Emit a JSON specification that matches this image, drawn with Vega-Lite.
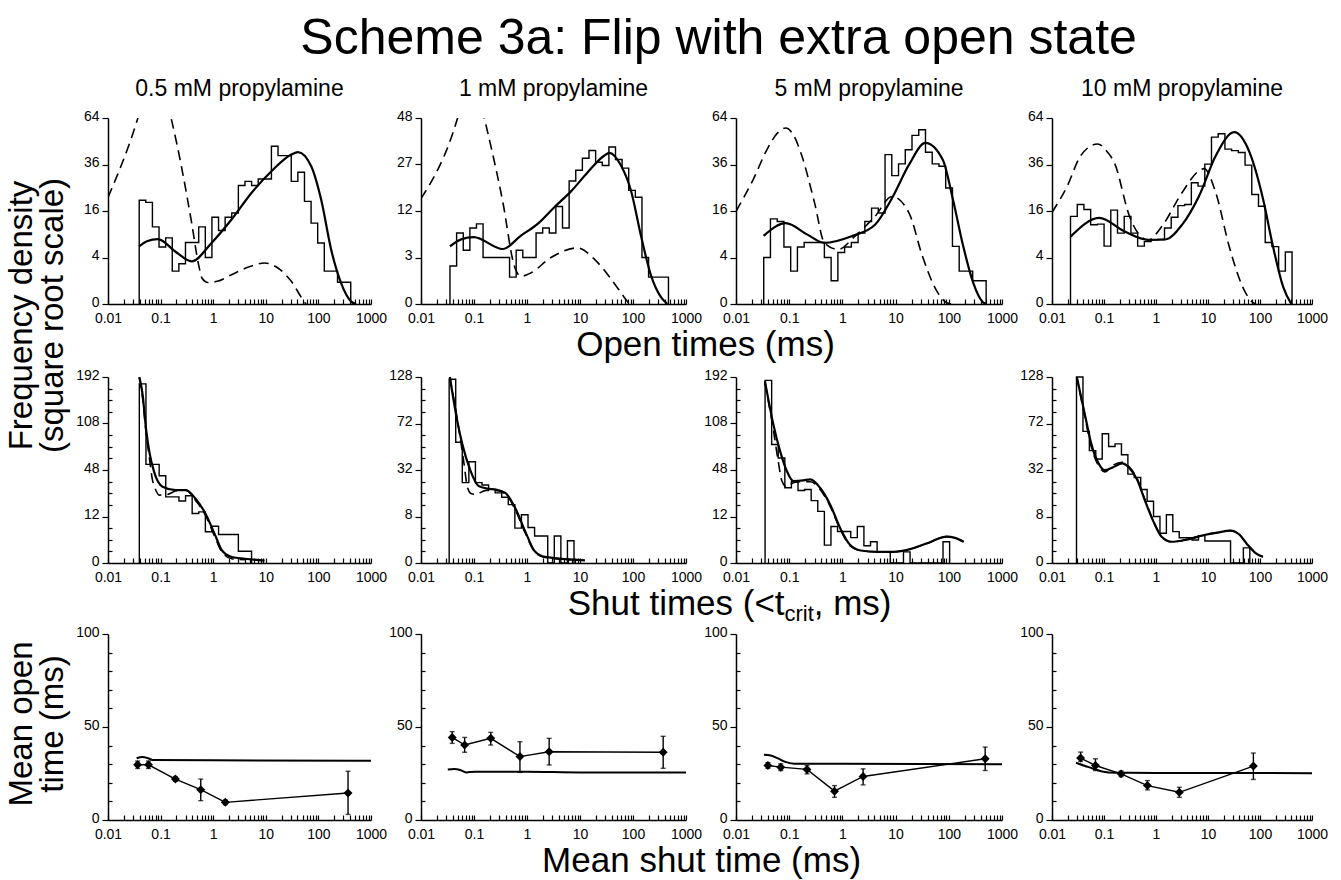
{
"$schema": "https://vega.github.io/schema/vega-lite/v6.json",
"background": "white",
"padding": {"left": 5, "top": 14, "right": 5, "bottom": 5},
"config": {
  "font": "Liberation Sans",
  "view": {"stroke": null},
  "axis": {"labelFont": "Liberation Sans", "labelFontSize": 14, "labelColor": "black", "domainColor": "black", "domainWidth": 1.5, "tickColor": "black", "tickWidth": 1.2, "tickSize": 6, "grid": false, "labelPadding": 3},
  "axisY": {"labelOffset": -2},
  "title": {"font": "Liberation Sans", "fontWeight": "normal", "color": "black"}
},
"title": {"text": "Scheme 3a: Flip with extra open state", "fontSize": 50, "anchor": "middle", "offset": 14, "dx": 52},
"datasets": {
"h_o05": [{"t":0.0392,"f":0},{"t":0.0392,"f":19.9},{"t":0.0523,"f":19.1},{"t":0.0699,"f":11},{"t":0.0934,"f":6},{"t":0.1247,"f":8.1},{"t":0.1666,"f":2},{"t":0.2225,"f":3},{"t":0.2971,"f":7},{"t":0.3968,"f":7},{"t":0.53,"f":11},{"t":0.708,"f":4},{"t":0.946,"f":13.9},{"t":1.263,"f":10},{"t":1.687,"f":13.9},{"t":2.253,"f":15.3},{"t":3.009,"f":26},{"t":4.019,"f":27.8},{"t":5.368,"f":26},{"t":7.17,"f":28.9},{"t":9.576,"f":28.9},{"t":12.79,"f":46},{"t":17.08,"f":40.7},{"t":22.81,"f":40.7},{"t":30.47,"f":27.8},{"t":40.69,"f":32.1},{"t":54.35,"f":19.5},{"t":72.59,"f":12.1},{"t":96.95,"f":6.9},{"t":129.5,"f":2},{"t":172.9,"f":2},{"t":231,"f":0.87},{"t":308.5,"f":0.87},{"t":412,"f":0}],
"f_o05": [{"t":0.039,"f":6.15},{"t":0.055,"f":7.3},{"t":0.089,"f":7.8},{"t":0.19,"f":5.1},{"t":0.39,"f":3.37},{"t":0.93,"f":6.9},{"t":2.23,"f":13.2},{"t":5.33,"f":22.8},{"t":12.8,"f":32.6},{"t":30.5,"f":41.3},{"t":40.8,"f":42.7},{"t":73,"f":35.1},{"t":113,"f":20.1},{"t":175,"f":5.46},{"t":269,"f":0.82},{"t":416,"f":0.013},{"t":520,"f":0}],
"d_o05": [{"t":0.01,"f":21},{"t":0.037,"f":64},{"t":0.075,"f":110},{"t":0.158,"f":64},{"t":0.39,"f":12.1},{"t":0.52,"f":3.1},{"t":0.62,"f":1.2},{"t":0.8,"f":0.85},{"t":1.2,"f":0.95},{"t":2.23,"f":1.59},{"t":5,"f":2.6},{"t":9.5,"f":3.1},{"t":17,"f":2.4},{"t":30.5,"f":0.95},{"t":51,"f":0.03},{"t":58,"f":0}],
"h_o1": [{"t":0.0352,"f":0},{"t":0.0352,"f":2},{"t":0.047,"f":7},{"t":0.0627,"f":4},{"t":0.0836,"f":8},{"t":0.1114,"f":8.9},{"t":0.1483,"f":3},{"t":0.1977,"f":3},{"t":0.2636,"f":3},{"t":0.3516,"f":3},{"t":0.4688,"f":1},{"t":0.6252,"f":4},{"t":0.8337,"f":3},{"t":1.112,"f":3},{"t":1.483,"f":7},{"t":1.977,"f":8},{"t":2.636,"f":7},{"t":3.508,"f":13.2},{"t":4.677,"f":8},{"t":6.237,"f":21},{"t":8.318,"f":24.8},{"t":11.09,"f":29.5},{"t":14.79,"f":32.7},{"t":19.72,"f":27.9},{"t":26.3,"f":26.6},{"t":35.08,"f":34.2},{"t":46.77,"f":29},{"t":62.23,"f":25.6},{"t":82.99,"f":17.9},{"t":110.7,"f":15.8},{"t":147.6,"f":3},{"t":196.8,"f":1},{"t":262.4,"f":1},{"t":349.9,"f":1},{"t":466.7,"f":0}],
"f_o1": [{"t":0.0352,"f":4.6},{"t":0.057,"f":5.8},{"t":0.099,"f":6.2},{"t":0.35,"f":4.2},{"t":0.77,"f":6.5},{"t":1.59,"f":8.9},{"t":3.28,"f":13},{"t":6.76,"f":17.6},{"t":14,"f":24.1},{"t":28.9,"f":30.6},{"t":35.7,"f":31.7},{"t":59.4,"f":26.6},{"t":92,"f":17.7},{"t":141,"f":6.5},{"t":219,"f":1.12},{"t":340,"f":0.06},{"t":446,"f":0}],
"d_o1": [{"t":0.01,"f":15.4},{"t":0.049,"f":48},{"t":0.09,"f":80},{"t":0.157,"f":48},{"t":0.35,"f":14.4},{"t":0.577,"f":2},{"t":0.77,"f":1.07},{"t":1.18,"f":1.34},{"t":2.84,"f":3},{"t":9.1,"f":4.37},{"t":18.6,"f":2.8},{"t":38.5,"f":0.87},{"t":68.6,"f":0.06},{"t":85,"f":0}],
"h_o5": [{"t":0.0332,"f":0},{"t":0.0332,"f":4},{"t":0.0444,"f":13.4},{"t":0.0595,"f":12.6},{"t":0.0796,"f":6},{"t":0.1066,"f":2},{"t":0.1427,"f":6},{"t":0.1911,"f":7},{"t":0.2558,"f":7},{"t":0.3424,"f":7},{"t":0.4585,"f":4},{"t":0.6138,"f":1},{"t":0.8216,"f":4.9},{"t":1.1,"f":6},{"t":1.473,"f":7},{"t":1.972,"f":9.3},{"t":2.64,"f":12.6},{"t":3.534,"f":17},{"t":4.731,"f":15.3},{"t":6.334,"f":41.3},{"t":8.479,"f":30.5},{"t":11.35,"f":36.3},{"t":15.2,"f":44},{"t":20.34,"f":52.6},{"t":27.23,"f":56.2},{"t":36.46,"f":42.6},{"t":48.81,"f":36.3},{"t":65.34,"f":35.1},{"t":87.47,"f":24.9},{"t":117.1,"f":6.15},{"t":156.8,"f":2},{"t":209.9,"f":2},{"t":281,"f":1},{"t":376.2,"f":1},{"t":503.6,"f":0}],
"f_o5": [{"t":0.033,"f":8.6},{"t":0.086,"f":12.1},{"t":0.22,"f":8.9},{"t":0.46,"f":6.9},{"t":1.49,"f":8.5},{"t":4.1,"f":11.6},{"t":8.6,"f":20.8},{"t":17.9,"f":35.9},{"t":36.1,"f":48},{"t":77,"f":38.5},{"t":120,"f":20.1},{"t":187,"f":6.15},{"t":288,"f":0.82},{"t":440,"f":0.005},{"t":515,"f":0}],
"d_o5": [{"t":0.01,"f":15.9},{"t":0.021,"f":28.6},{"t":0.038,"f":44},{"t":0.06,"f":54},{"t":0.086,"f":57.3},{"t":0.124,"f":52},{"t":0.166,"f":42.2},{"t":0.3,"f":18.9},{"t":0.46,"f":6.9},{"t":0.83,"f":5.5},{"t":1.72,"f":8.5},{"t":4.1,"f":14.2},{"t":8.6,"f":21.4},{"t":17.9,"f":15.3},{"t":32,"f":4.2},{"t":57.5,"f":0.38},{"t":89,"f":0.005},{"t":112,"f":0}],
"h_o10": [{"t":0.0227,"f":0},{"t":0.0227,"f":14.2},{"t":0.0306,"f":18.3},{"t":0.0411,"f":16.5},{"t":0.0554,"f":11.6},{"t":0.0746,"f":11.8},{"t":0.1003,"f":6.2},{"t":0.1351,"f":16.3},{"t":0.1818,"f":9.3},{"t":0.2448,"f":14.2},{"t":0.3295,"f":9.3},{"t":0.4436,"f":6.2},{"t":0.5973,"f":7.2},{"t":0.8039,"f":7.6},{"t":1.082,"f":7.7},{"t":1.457,"f":10.7},{"t":1.961,"f":13.9},{"t":2.64,"f":17.9},{"t":3.554,"f":18.3},{"t":4.785,"f":27.2},{"t":6.441,"f":25.7},{"t":8.67,"f":36.2},{"t":11.67,"f":51.5},{"t":15.71,"f":53.6},{"t":21.15,"f":44.4},{"t":28.47,"f":43.5},{"t":38.33,"f":42.5},{"t":51.6,"f":35.7},{"t":69.46,"f":22.2},{"t":93.5,"f":17.7},{"t":125.9,"f":7},{"t":169.4,"f":6.1},{"t":228.1,"f":2},{"t":307.1,"f":5},{"t":413.4,"f":0}],
"f_o10": [{"t":0.0227,"f":8.4},{"t":0.081,"f":13.7},{"t":0.25,"f":9.7},{"t":0.71,"f":7.6},{"t":1.5,"f":7.7},{"t":3.16,"f":11.6},{"t":6.7,"f":21.5},{"t":14.1,"f":40.7},{"t":32,"f":54.6},{"t":63,"f":42.5},{"t":115,"f":20.2},{"t":178,"f":6.1},{"t":280,"f":0.53},{"t":400,"f":0}],
"d_o10": [{"t":0.01,"f":15.5},{"t":0.0196,"f":25.7},{"t":0.0356,"f":40.7},{"t":0.075,"f":47.4},{"t":0.118,"f":42.5},{"t":0.158,"f":37},{"t":0.31,"f":14.2},{"t":0.45,"f":9.3},{"t":0.71,"f":7.6},{"t":1.29,"f":11.1},{"t":3.16,"f":22.9},{"t":6.7,"f":32.8},{"t":8.4,"f":33.9},{"t":14.1,"f":22.9},{"t":25.6,"f":6.1},{"t":46.6,"f":0.53},{"t":72.5,"f":0.005},{"t":84,"f":0}],
"h_s05": [{"t":0.0394,"f":0},{"t":0.0394,"f":178},{"t":0.0527,"f":54},{"t":0.0703,"f":54},{"t":0.0939,"f":42.3},{"t":0.1253,"f":24.3},{"t":0.1673,"f":24.3},{"t":0.2234,"f":21.3},{"t":0.2982,"f":25.1},{"t":0.3981,"f":13.6},{"t":0.5315,"f":14.5},{"t":0.7096,"f":5.4},{"t":0.9473,"f":7.5},{"t":1.265,"f":4.5},{"t":1.689,"f":4.5},{"t":2.254,"f":4.5},{"t":3.009,"f":0.76},{"t":4.018,"f":0.76},{"t":5.364,"f":0}],
"f_s05": [{"t":0.0394,"f":192},{"t":0.0456,"f":157},{"t":0.0527,"f":100.8},{"t":0.061,"f":68.9},{"t":0.075,"f":46.3},{"t":0.109,"f":32.3},{"t":0.193,"f":29.5},{"t":0.3,"f":29.5},{"t":0.459,"f":23.1},{"t":0.71,"f":13.6},{"t":1.09,"f":4.3},{"t":1.46,"f":0.9},{"t":2.25,"f":0.2},{"t":4,"f":0.1},{"t":9.5,"f":0.03}],
"d_s05": [{"t":0.0394,"f":190},{"t":0.0456,"f":150},{"t":0.0527,"f":95},{"t":0.061,"f":62},{"t":0.069,"f":40},{"t":0.08,"f":30},{"t":0.094,"f":25.6},{"t":0.135,"f":26.1},{"t":0.193,"f":28.7},{"t":0.3,"f":29.5},{"t":0.459,"f":21.9},{"t":0.71,"f":12.7},{"t":1.09,"f":3.6},{"t":1.46,"f":0.68},{"t":2.25,"f":0.1},{"t":4,"f":0.06}],
"h_s1": [{"t":0.034,"f":0},{"t":0.034,"f":125},{"t":0.0452,"f":54},{"t":0.0601,"f":23.9},{"t":0.08,"f":37.9},{"t":0.1064,"f":23.9},{"t":0.1416,"f":22.5},{"t":0.1884,"f":20},{"t":0.2506,"f":18.2},{"t":0.3334,"f":16},{"t":0.4436,"f":12.6},{"t":0.5902,"f":4.5},{"t":0.7852,"f":8.6},{"t":1.045,"f":4.65},{"t":1.39,"f":2.7},{"t":1.849,"f":2.7},{"t":2.46,"f":0},{"t":3.273,"f":2.7},{"t":4.355,"f":0},{"t":5.794,"f":1.84},{"t":7.709,"f":0}],
"f_s1": [{"t":0.035,"f":128},{"t":0.0487,"f":73.7},{"t":0.06,"f":52.5},{"t":0.085,"f":31.9},{"t":0.122,"f":21.9},{"t":0.18,"f":20.5},{"t":0.255,"f":20},{"t":0.39,"f":18.2},{"t":0.6,"f":11.2},{"t":0.93,"f":3.65},{"t":1.4,"f":0.52},{"t":2.2,"f":0.14},{"t":12.4,"f":0.027}],
"d_s1": [{"t":0.035,"f":128},{"t":0.0487,"f":75.4},{"t":0.065,"f":36.2},{"t":0.075,"f":21.4},{"t":0.09,"f":17.7},{"t":0.106,"f":17.4},{"t":0.17,"f":19.5},{"t":0.255,"f":19.5},{"t":0.39,"f":17.7},{"t":0.6,"f":10.5},{"t":0.93,"f":3.27},{"t":1.4,"f":0.46},{"t":2.2,"f":0.11},{"t":7,"f":0.04}],
"h_s5": [{"t":0.0352,"f":0},{"t":0.0352,"f":185},{"t":0.0468,"f":77.9},{"t":0.0622,"f":61.2},{"t":0.0828,"f":31.4},{"t":0.11,"f":36.7},{"t":0.1464,"f":29.2},{"t":0.1947,"f":30},{"t":0.259,"f":21.6},{"t":0.3445,"f":14.8},{"t":0.4583,"f":1.78},{"t":0.6095,"f":7.4},{"t":0.8108,"f":5.5},{"t":1.078,"f":5.5},{"t":1.435,"f":3.56},{"t":1.908,"f":7.4},{"t":2.538,"f":1.64},{"t":3.376,"f":2.5},{"t":4.491,"f":0.69},{"t":5.973,"f":0.69},{"t":7.945,"f":0},{"t":10.57,"f":0},{"t":14.06,"f":0.69},{"t":18.7,"f":0},{"t":24.87,"f":0},{"t":33.08,"f":0},{"t":44,"f":0},{"t":58.53,"f":0},{"t":77.85,"f":2.5},{"t":103.6,"f":0}],
"f_s5": [{"t":0.0351,"f":183},{"t":0.05,"f":107.8},{"t":0.067,"f":70.1},{"t":0.09,"f":47.1},{"t":0.12,"f":37.3},{"t":0.185,"f":37.9},{"t":0.25,"f":38.9},{"t":0.38,"f":31.4},{"t":0.59,"f":18.9},{"t":0.91,"f":6.7},{"t":1.4,"f":1.78},{"t":2.2,"f":0.87},{"t":4.5,"f":0.69},{"t":9.1,"f":0.69},{"t":18.8,"f":1.06},{"t":38.5,"f":2.13},{"t":92,"f":3.85},{"t":130,"f":3.5},{"t":190,"f":2.5}],
"d_s5": [{"t":0.0351,"f":179},{"t":0.05,"f":100},{"t":0.062,"f":58},{"t":0.073,"f":37.3},{"t":0.09,"f":32},{"t":0.12,"f":35.8},{"t":0.185,"f":36.7},{"t":0.25,"f":36.7},{"t":0.38,"f":30},{"t":0.59,"f":17.8},{"t":0.91,"f":6.3},{"t":1.4,"f":1.64},{"t":2.2,"f":0.87},{"t":4.5,"f":0.69},{"t":9.1,"f":0.69},{"t":18.8,"f":1.06},{"t":38.5,"f":2.13},{"t":92,"f":3.85},{"t":130,"f":3.5},{"t":190,"f":2.5}],
"h_s10": [{"t":0.0296,"f":0},{"t":0.0296,"f":128},{"t":0.0394,"f":64.1},{"t":0.0523,"f":46.7},{"t":0.0695,"f":40},{"t":0.0924,"f":61.8},{"t":0.1227,"f":50.2},{"t":0.1631,"f":52.5},{"t":0.2167,"f":43.4},{"t":0.2879,"f":29.2},{"t":0.3825,"f":27},{"t":0.5082,"f":20},{"t":0.6752,"f":14.1},{"t":0.8971,"f":8},{"t":1.192,"f":3.27},{"t":1.584,"f":8.6},{"t":2.104,"f":3.65},{"t":2.795,"f":2.37},{"t":3.714,"f":2.37},{"t":4.934,"f":1.95},{"t":6.556,"f":2.77},{"t":8.71,"f":1.78},{"t":11.57,"f":1.78},{"t":15.38,"f":1.78},{"t":20.43,"f":1.78},{"t":27.14,"f":0},{"t":36.06,"f":0},{"t":47.91,"f":0.85},{"t":63.65,"f":0}],
"f_s10": [{"t":0.03,"f":128},{"t":0.0425,"f":82.7},{"t":0.057,"f":52.5},{"t":0.077,"f":37.4},{"t":0.104,"f":31.9},{"t":0.146,"f":33.8},{"t":0.224,"f":36.7},{"t":0.3,"f":33.8},{"t":0.43,"f":25.9},{"t":0.62,"f":14.1},{"t":0.89,"f":6.4},{"t":1.28,"f":2.56},{"t":1.98,"f":1.67},{"t":4.1,"f":2.07},{"t":8.5,"f":2.9},{"t":15,"f":3.4},{"t":27,"f":3.9},{"t":40,"f":3},{"t":55,"f":1.42},{"t":85,"f":0.33},{"t":114,"f":0.14}],
"d_s10": [{"t":0.03,"f":128},{"t":0.0425,"f":80},{"t":0.057,"f":50},{"t":0.077,"f":35.5},{"t":0.104,"f":30.7},{"t":0.146,"f":35.2},{"t":0.224,"f":37.5},{"t":0.3,"f":34.5},{"t":0.43,"f":26.5},{"t":0.62,"f":14.5},{"t":0.89,"f":6.6},{"t":1.28,"f":2.6},{"t":1.98,"f":1.67},{"t":4.1,"f":2.07},{"t":8.5,"f":2.9},{"t":15,"f":3.4},{"t":27,"f":3.9},{"t":40,"f":3},{"t":55,"f":1.42},{"t":85,"f":0.33},{"t":114,"f":0.14}],
"p_m05": [{"t":0.0366,"m":29.7,"lo":27.7,"hi":31.7},{"t":0.0589,"m":29.7,"lo":27.7,"hi":31.7},{"t":0.191,"m":22,"lo":20.8,"hi":23.2},{"t":0.58,"m":16.3,"lo":10.4,"hi":22},{"t":1.7,"m":9.5,"lo":8.3,"hi":10.7},{"t":366,"m":14.5,"lo":3,"hi":26.2}],
"c_m05": [{"t":0.035,"f":33.2},{"t":0.045,"f":33.9},{"t":0.058,"f":33.2},{"t":0.07,"f":32.3},{"t":1,"f":32.1},{"t":1000,"f":31.9}],
"p_m1": [{"t":0.0388,"m":44.4,"lo":41.2,"hi":47.5},{"t":0.0666,"m":40.3,"lo":36.4,"hi":44.4},{"t":0.207,"m":43.9,"lo":40.3,"hi":47.1},{"t":0.736,"m":34.1,"lo":25.6,"hi":42.1},{"t":2.62,"m":36.7,"lo":29.6,"hi":43.9},{"t":371,"m":36.4,"lo":27.8,"hi":45}],
"c_m1": [{"t":0.032,"f":27.1},{"t":0.042,"f":27.4},{"t":0.055,"f":26.9},{"t":0.071,"f":25.6},{"t":0.103,"f":26},{"t":1,"f":26},{"t":10,"f":25.6},{"t":1000,"f":25.6}],
"p_m5": [{"t":0.0398,"m":29.3,"lo":27.8,"hi":30.8},{"t":0.0694,"m":28.4,"lo":26.6,"hi":30.2},{"t":0.216,"m":27.2,"lo":24.8,"hi":29.3},{"t":0.711,"m":15.5,"lo":12.2,"hi":18.5},{"t":2.45,"m":23.4,"lo":18.9,"hi":27.5},{"t":483,"m":32.9,"lo":26.6,"hi":39.2}],
"c_m5": [{"t":0.0335,"f":35.1},{"t":0.045,"f":34.7},{"t":0.06,"f":33.3},{"t":0.08,"f":31.5},{"t":0.124,"f":30.2},{"t":1,"f":30.2},{"t":1000,"f":30}],
"p_m10": [{"t":0.0355,"m":33.3,"lo":31.5,"hi":36.5},{"t":0.0685,"m":29.3,"lo":26.6,"hi":32.9},{"t":0.213,"m":24.8,"lo":23.3,"hi":26.3},{"t":0.684,"m":18.5,"lo":16.2,"hi":21.2},{"t":2.81,"m":14.9,"lo":12.2,"hi":17.6},{"t":74.6,"m":29,"lo":21.8,"hi":36}],
"c_m10": [{"t":0.029,"f":30.8},{"t":0.051,"f":28.4},{"t":0.092,"f":26.1},{"t":0.164,"f":25.4},{"t":1,"f":25.3},{"t":1000,"f":25.2}]
},
"resolve": {"scale": {"x": "independent", "y": "independent"}},
"spacing": 0,
"vconcat": [
{
 "title": {"text": ["Frequency density", "(square root scale)"], "orient": "left", "anchor": "middle", "fontSize": 33, "lineHeight": 31, "offset": 6, "dx": 36},
 "resolve": {"scale": {"x": "independent", "y": "independent"}},
 "spacing": 5,
 "vconcat": [
 {
  "title": {"text": "Open times (ms)", "orient": "bottom", "anchor": "middle", "fontSize": 35, "offset": 3},
  "bounds": "flush", "spacing": 50,
  "resolve": {"scale": {"x": "independent", "y": "independent"}},
  "hconcat": [
   {"width": 263, "height": 186, "title": {"text": "0.5 mM propylamine", "fontSize": 23, "offset": 8},
    "layer": [
     {"data": {"name": "h_o05"}, "mark": {"type": "line", "interpolate": "step-after", "color": "black", "strokeWidth": 1.4},
      "encoding": {"x": {"field": "t", "type": "quantitative", "scale": {"type": "log", "domain": [0.01, 1000], "nice": false}, "axis": {"values": [0.01,0.02,0.03,0.04,0.05,0.06,0.07,0.08,0.09,0.1,0.2,0.3,0.4,0.5,0.6,0.7,0.8,0.9,1,2,3,4,5,6,7,8,9,10,20,30,40,50,60,70,80,90,100,200,300,400,500,600,700,800,900,1000], "labelExpr": "indexof([0.01,0.1,1,10,100,1000], datum.value) >= 0 ? format(datum.value, '~g') : ''", "tickSize": -5, "labelPadding": 12, "labelFlush": false, "labelOverlap": false, "title": null}},
       "y": {"field": "f", "type": "quantitative", "scale": {"type": "sqrt", "domain": [0, 64], "nice": false}, "axis": {"values": [0, 4, 16, 36, 64], "title": null}},
       "order": {"value": null}}},
     {"data": {"name": "d_o05"}, "mark": {"type": "line", "interpolate": "monotone", "color": "black", "strokeWidth": 1.6, "strokeDash": [10, 6], "clip": true},
      "encoding": {"x": {"field": "t", "type": "quantitative"}, "y": {"field": "f", "type": "quantitative"}}},
     {"data": {"name": "f_o05"}, "mark": {"type": "line", "interpolate": "monotone", "color": "black", "strokeWidth": 2.2},
      "encoding": {"x": {"field": "t", "type": "quantitative"}, "y": {"field": "f", "type": "quantitative"}}}
    ]},
   {"width": 265, "height": 186, "title": {"text": "1 mM propylamine", "fontSize": 23, "offset": 8},
    "layer": [
     {"data": {"name": "h_o1"}, "mark": {"type": "line", "interpolate": "step-after", "color": "black", "strokeWidth": 1.4},
      "encoding": {"x": {"field": "t", "type": "quantitative", "scale": {"type": "log", "domain": [0.01, 1000], "nice": false}, "axis": {"values": [0.01,0.02,0.03,0.04,0.05,0.06,0.07,0.08,0.09,0.1,0.2,0.3,0.4,0.5,0.6,0.7,0.8,0.9,1,2,3,4,5,6,7,8,9,10,20,30,40,50,60,70,80,90,100,200,300,400,500,600,700,800,900,1000], "labelExpr": "indexof([0.01,0.1,1,10,100,1000], datum.value) >= 0 ? format(datum.value, '~g') : ''", "tickSize": -5, "labelPadding": 12, "labelFlush": false, "labelOverlap": false, "title": null}},
       "y": {"field": "f", "type": "quantitative", "scale": {"type": "sqrt", "domain": [0, 48], "nice": false}, "axis": {"values": [0, 3, 12, 27, 48], "title": null}},
       "order": {"value": null}}},
     {"data": {"name": "d_o1"}, "mark": {"type": "line", "interpolate": "monotone", "color": "black", "strokeWidth": 1.6, "strokeDash": [10, 6], "clip": true},
      "encoding": {"x": {"field": "t", "type": "quantitative"}, "y": {"field": "f", "type": "quantitative"}}},
     {"data": {"name": "f_o1"}, "mark": {"type": "line", "interpolate": "monotone", "color": "black", "strokeWidth": 2.2},
      "encoding": {"x": {"field": "t", "type": "quantitative"}, "y": {"field": "f", "type": "quantitative"}}}
    ]},
   {"width": 266, "height": 186, "title": {"text": "5 mM propylamine", "fontSize": 23, "offset": 8},
    "layer": [
     {"data": {"name": "h_o5"}, "mark": {"type": "line", "interpolate": "step-after", "color": "black", "strokeWidth": 1.4},
      "encoding": {"x": {"field": "t", "type": "quantitative", "scale": {"type": "log", "domain": [0.01, 1000], "nice": false}, "axis": {"values": [0.01,0.02,0.03,0.04,0.05,0.06,0.07,0.08,0.09,0.1,0.2,0.3,0.4,0.5,0.6,0.7,0.8,0.9,1,2,3,4,5,6,7,8,9,10,20,30,40,50,60,70,80,90,100,200,300,400,500,600,700,800,900,1000], "labelExpr": "indexof([0.01,0.1,1,10,100,1000], datum.value) >= 0 ? format(datum.value, '~g') : ''", "tickSize": -5, "labelPadding": 12, "labelFlush": false, "labelOverlap": false, "title": null}},
       "y": {"field": "f", "type": "quantitative", "scale": {"type": "sqrt", "domain": [0, 64], "nice": false}, "axis": {"values": [0, 4, 16, 36, 64], "title": null}},
       "order": {"value": null}}},
     {"data": {"name": "d_o5"}, "mark": {"type": "line", "interpolate": "monotone", "color": "black", "strokeWidth": 1.6, "strokeDash": [10, 6], "clip": true},
      "encoding": {"x": {"field": "t", "type": "quantitative"}, "y": {"field": "f", "type": "quantitative"}}},
     {"data": {"name": "f_o5"}, "mark": {"type": "line", "interpolate": "monotone", "color": "black", "strokeWidth": 2.2},
      "encoding": {"x": {"field": "t", "type": "quantitative"}, "y": {"field": "f", "type": "quantitative"}}}
    ]},
   {"width": 260, "height": 186, "title": {"text": "10 mM propylamine", "fontSize": 23, "offset": 8},
    "layer": [
     {"data": {"name": "h_o10"}, "mark": {"type": "line", "interpolate": "step-after", "color": "black", "strokeWidth": 1.4},
      "encoding": {"x": {"field": "t", "type": "quantitative", "scale": {"type": "log", "domain": [0.01, 1000], "nice": false}, "axis": {"values": [0.01,0.02,0.03,0.04,0.05,0.06,0.07,0.08,0.09,0.1,0.2,0.3,0.4,0.5,0.6,0.7,0.8,0.9,1,2,3,4,5,6,7,8,9,10,20,30,40,50,60,70,80,90,100,200,300,400,500,600,700,800,900,1000], "labelExpr": "indexof([0.01,0.1,1,10,100,1000], datum.value) >= 0 ? format(datum.value, '~g') : ''", "tickSize": -5, "labelPadding": 12, "labelFlush": false, "labelOverlap": false, "title": null}},
       "y": {"field": "f", "type": "quantitative", "scale": {"type": "sqrt", "domain": [0, 64], "nice": false}, "axis": {"values": [0, 4, 16, 36, 64], "title": null}},
       "order": {"value": null}}},
     {"data": {"name": "d_o10"}, "mark": {"type": "line", "interpolate": "monotone", "color": "black", "strokeWidth": 1.6, "strokeDash": [10, 6], "clip": true},
      "encoding": {"x": {"field": "t", "type": "quantitative"}, "y": {"field": "f", "type": "quantitative"}}},
     {"data": {"name": "f_o10"}, "mark": {"type": "line", "interpolate": "monotone", "color": "black", "strokeWidth": 2.2},
      "encoding": {"x": {"field": "t", "type": "quantitative"}, "y": {"field": "f", "type": "quantitative"}}}
    ]}
  ]
 },
 {
 "title": {"text": "crit", "orient": "bottom", "anchor": "middle", "fontSize": 22, "offset": -18, "dx": 97.5},
 "resolve": {"scale": {"x": "independent", "y": "independent"}},
 "vconcat": [
 {
  "title": {"text": "Shut times (<t\u00a0\u00a0\u00a0, ms)", "orient": "bottom", "anchor": "middle", "fontSize": 35, "offset": 3, "dx": 28},
  "bounds": "flush", "spacing": 50,
  "resolve": {"scale": {"x": "independent", "y": "independent"}},
  "hconcat": [
   {"width": 263, "height": 186, "resolve": {"axis": {"y": "independent"}},
    "layer": [
     {"data": {"name": "h_s05"}, "mark": {"type": "line", "interpolate": "step-after", "color": "black", "strokeWidth": 1.4},
      "encoding": {"x": {"field": "t", "type": "quantitative", "scale": {"type": "log", "domain": [0.01, 1000], "nice": false}, "axis": {"values": [0.01,0.02,0.03,0.04,0.05,0.06,0.07,0.08,0.09,0.1,0.2,0.3,0.4,0.5,0.6,0.7,0.8,0.9,1,2,3,4,5,6,7,8,9,10,20,30,40,50,60,70,80,90,100,200,300,400,500,600,700,800,900,1000], "labelExpr": "indexof([0.01,0.1,1,10,100,1000], datum.value) >= 0 ? format(datum.value, '~g') : ''", "tickSize": -5, "labelPadding": 12, "labelFlush": false, "labelOverlap": false, "title": null}},
       "y": {"field": "f", "type": "quantitative", "scale": {"type": "sqrt", "domain": [0, 192], "nice": false}, "axis": {"values": [0, 12, 48, 108, 192], "title": null, "orient": "left"}},
       "order": {"value": null}}},
     {"data": {"name": "d_s05"}, "mark": {"type": "line", "interpolate": "monotone", "color": "black", "strokeWidth": 1.6, "strokeDash": [10, 6], "clip": true},
      "encoding": {"x": {"field": "t", "type": "quantitative"}, "y": {"field": "f", "type": "quantitative", "axis": {"values": [0.75, 3, 6.75, 18.75, 27, 36.75, 60.75, 75, 90.75, 126.75, 147, 168.75], "labels": false, "domain": false, "tickSize": -4, "title": null, "orient": "left"}}}},
     {"data": {"name": "f_s05"}, "mark": {"type": "line", "interpolate": "monotone", "color": "black", "strokeWidth": 2.2},
      "encoding": {"x": {"field": "t", "type": "quantitative"}, "y": {"field": "f", "type": "quantitative", "axis": null}}}
    ]},
   {"width": 265, "height": 186, "resolve": {"axis": {"y": "independent"}},
    "layer": [
     {"data": {"name": "h_s1"}, "mark": {"type": "line", "interpolate": "step-after", "color": "black", "strokeWidth": 1.4},
      "encoding": {"x": {"field": "t", "type": "quantitative", "scale": {"type": "log", "domain": [0.01, 1000], "nice": false}, "axis": {"values": [0.01,0.02,0.03,0.04,0.05,0.06,0.07,0.08,0.09,0.1,0.2,0.3,0.4,0.5,0.6,0.7,0.8,0.9,1,2,3,4,5,6,7,8,9,10,20,30,40,50,60,70,80,90,100,200,300,400,500,600,700,800,900,1000], "labelExpr": "indexof([0.01,0.1,1,10,100,1000], datum.value) >= 0 ? format(datum.value, '~g') : ''", "tickSize": -5, "labelPadding": 12, "labelFlush": false, "labelOverlap": false, "title": null}},
       "y": {"field": "f", "type": "quantitative", "scale": {"type": "sqrt", "domain": [0, 128], "nice": false}, "axis": {"values": [0, 8, 32, 72, 128], "title": null, "orient": "left"}},
       "order": {"value": null}}},
     {"data": {"name": "d_s1"}, "mark": {"type": "line", "interpolate": "monotone", "color": "black", "strokeWidth": 1.6, "strokeDash": [10, 6], "clip": true},
      "encoding": {"x": {"field": "t", "type": "quantitative"}, "y": {"field": "f", "type": "quantitative", "axis": {"values": [0.5, 2, 4.5, 12.5, 18, 24.5, 40.5, 50, 60.5, 84.5, 98, 112.5], "labels": false, "domain": false, "tickSize": -4, "title": null, "orient": "left"}}}},
     {"data": {"name": "f_s1"}, "mark": {"type": "line", "interpolate": "monotone", "color": "black", "strokeWidth": 2.2},
      "encoding": {"x": {"field": "t", "type": "quantitative"}, "y": {"field": "f", "type": "quantitative", "axis": null}}}
    ]},
   {"width": 266, "height": 186, "resolve": {"axis": {"y": "independent"}},
    "layer": [
     {"data": {"name": "h_s5"}, "mark": {"type": "line", "interpolate": "step-after", "color": "black", "strokeWidth": 1.4},
      "encoding": {"x": {"field": "t", "type": "quantitative", "scale": {"type": "log", "domain": [0.01, 1000], "nice": false}, "axis": {"values": [0.01,0.02,0.03,0.04,0.05,0.06,0.07,0.08,0.09,0.1,0.2,0.3,0.4,0.5,0.6,0.7,0.8,0.9,1,2,3,4,5,6,7,8,9,10,20,30,40,50,60,70,80,90,100,200,300,400,500,600,700,800,900,1000], "labelExpr": "indexof([0.01,0.1,1,10,100,1000], datum.value) >= 0 ? format(datum.value, '~g') : ''", "tickSize": -5, "labelPadding": 12, "labelFlush": false, "labelOverlap": false, "title": null}},
       "y": {"field": "f", "type": "quantitative", "scale": {"type": "sqrt", "domain": [0, 192], "nice": false}, "axis": {"values": [0, 12, 48, 108, 192], "title": null, "orient": "left"}},
       "order": {"value": null}}},
     {"data": {"name": "d_s5"}, "mark": {"type": "line", "interpolate": "monotone", "color": "black", "strokeWidth": 1.6, "strokeDash": [10, 6], "clip": true},
      "encoding": {"x": {"field": "t", "type": "quantitative"}, "y": {"field": "f", "type": "quantitative", "axis": {"values": [0.75, 3, 6.75, 18.75, 27, 36.75, 60.75, 75, 90.75, 126.75, 147, 168.75], "labels": false, "domain": false, "tickSize": -4, "title": null, "orient": "left"}}}},
     {"data": {"name": "f_s5"}, "mark": {"type": "line", "interpolate": "monotone", "color": "black", "strokeWidth": 2.2},
      "encoding": {"x": {"field": "t", "type": "quantitative"}, "y": {"field": "f", "type": "quantitative", "axis": null}}}
    ]},
   {"width": 260, "height": 186, "resolve": {"axis": {"y": "independent"}},
    "layer": [
     {"data": {"name": "h_s10"}, "mark": {"type": "line", "interpolate": "step-after", "color": "black", "strokeWidth": 1.4},
      "encoding": {"x": {"field": "t", "type": "quantitative", "scale": {"type": "log", "domain": [0.01, 1000], "nice": false}, "axis": {"values": [0.01,0.02,0.03,0.04,0.05,0.06,0.07,0.08,0.09,0.1,0.2,0.3,0.4,0.5,0.6,0.7,0.8,0.9,1,2,3,4,5,6,7,8,9,10,20,30,40,50,60,70,80,90,100,200,300,400,500,600,700,800,900,1000], "labelExpr": "indexof([0.01,0.1,1,10,100,1000], datum.value) >= 0 ? format(datum.value, '~g') : ''", "tickSize": -5, "labelPadding": 12, "labelFlush": false, "labelOverlap": false, "title": null}},
       "y": {"field": "f", "type": "quantitative", "scale": {"type": "sqrt", "domain": [0, 128], "nice": false}, "axis": {"values": [0, 8, 32, 72, 128], "title": null, "orient": "left"}},
       "order": {"value": null}}},
     {"data": {"name": "d_s10"}, "mark": {"type": "line", "interpolate": "monotone", "color": "black", "strokeWidth": 1.6, "strokeDash": [10, 6], "clip": true},
      "encoding": {"x": {"field": "t", "type": "quantitative"}, "y": {"field": "f", "type": "quantitative", "axis": {"values": [0.5, 2, 4.5, 12.5, 18, 24.5, 40.5, 50, 60.5, 84.5, 98, 112.5], "labels": false, "domain": false, "tickSize": -4, "title": null, "orient": "left"}}}},
     {"data": {"name": "f_s10"}, "mark": {"type": "line", "interpolate": "monotone", "color": "black", "strokeWidth": 2.2},
      "encoding": {"x": {"field": "t", "type": "quantitative"}, "y": {"field": "f", "type": "quantitative", "axis": null}}}
    ]}
  ]
 }
 ]
 }
 ]
},
{
 "title": {"text": ["Mean open", "time (ms)"], "orient": "left", "anchor": "middle", "fontSize": 33, "lineHeight": 31, "offset": 6, "dx": 28},
 "resolve": {"scale": {"x": "independent", "y": "independent"}},
 "vconcat": [
 {
  "title": {"text": "Mean shut time (ms)", "orient": "bottom", "anchor": "middle", "fontSize": 35, "offset": 3},
  "bounds": "flush", "spacing": 50,
  "resolve": {"scale": {"x": "independent", "y": "independent"}},
  "hconcat": [
   {"width": 263, "height": 186, "resolve": {"axis": {"y": "independent"}},
    "layer": [
     {"data": {"name": "c_m05"}, "mark": {"type": "line", "interpolate": "monotone", "color": "black", "strokeWidth": 2},
      "encoding": {"x": {"field": "t", "type": "quantitative", "scale": {"type": "log", "domain": [0.01, 1000], "nice": false}, "axis": {"values": [0.01,0.02,0.03,0.04,0.05,0.06,0.07,0.08,0.09,0.1,0.2,0.3,0.4,0.5,0.6,0.7,0.8,0.9,1,2,3,4,5,6,7,8,9,10,20,30,40,50,60,70,80,90,100,200,300,400,500,600,700,800,900,1000], "labelExpr": "indexof([0.01,0.1,1,10,100,1000], datum.value) >= 0 ? format(datum.value, '~g') : ''", "tickSize": -5, "labelPadding": 12, "labelFlush": false, "labelOverlap": false, "title": null}},
       "y": {"field": "f", "type": "quantitative", "scale": {"domain": [0, 100], "nice": false}, "axis": {"values": [0, 50, 100], "title": null, "orient": "left"}}}},
     {"data": {"name": "p_m05"}, "mark": {"type": "line", "color": "black", "strokeWidth": 1.4},
      "encoding": {"x": {"field": "t", "type": "quantitative"}, "y": {"field": "m", "type": "quantitative", "axis": {"values": [10, 20, 30, 40, 60, 70, 80, 90], "labels": false, "domain": false, "tickSize": -4, "title": null, "orient": "left"}}}},
     {"data": {"name": "p_m05"}, "mark": {"type": "errorbar", "ticks": true, "color": "black", "thickness": 1.4},
      "encoding": {"x": {"field": "t", "type": "quantitative"}, "y": {"field": "lo", "type": "quantitative", "axis": null}, "y2": {"field": "hi"}}},
     {"data": {"name": "p_m05"}, "mark": {"type": "point", "shape": "diamond", "filled": true, "color": "black", "size": 80, "opacity": 1},
      "encoding": {"x": {"field": "t", "type": "quantitative"}, "y": {"field": "m", "type": "quantitative", "axis": null}}}
    ]},
   {"width": 265, "height": 186, "resolve": {"axis": {"y": "independent"}},
    "layer": [
     {"data": {"name": "c_m1"}, "mark": {"type": "line", "interpolate": "monotone", "color": "black", "strokeWidth": 2},
      "encoding": {"x": {"field": "t", "type": "quantitative", "scale": {"type": "log", "domain": [0.01, 1000], "nice": false}, "axis": {"values": [0.01,0.02,0.03,0.04,0.05,0.06,0.07,0.08,0.09,0.1,0.2,0.3,0.4,0.5,0.6,0.7,0.8,0.9,1,2,3,4,5,6,7,8,9,10,20,30,40,50,60,70,80,90,100,200,300,400,500,600,700,800,900,1000], "labelExpr": "indexof([0.01,0.1,1,10,100,1000], datum.value) >= 0 ? format(datum.value, '~g') : ''", "tickSize": -5, "labelPadding": 12, "labelFlush": false, "labelOverlap": false, "title": null}},
       "y": {"field": "f", "type": "quantitative", "scale": {"domain": [0, 100], "nice": false}, "axis": {"values": [0, 50, 100], "title": null, "orient": "left"}}}},
     {"data": {"name": "p_m1"}, "mark": {"type": "line", "color": "black", "strokeWidth": 1.4},
      "encoding": {"x": {"field": "t", "type": "quantitative"}, "y": {"field": "m", "type": "quantitative", "axis": {"values": [10, 20, 30, 40, 60, 70, 80, 90], "labels": false, "domain": false, "tickSize": -4, "title": null, "orient": "left"}}}},
     {"data": {"name": "p_m1"}, "mark": {"type": "errorbar", "ticks": true, "color": "black", "thickness": 1.4},
      "encoding": {"x": {"field": "t", "type": "quantitative"}, "y": {"field": "lo", "type": "quantitative", "axis": null}, "y2": {"field": "hi"}}},
     {"data": {"name": "p_m1"}, "mark": {"type": "point", "shape": "diamond", "filled": true, "color": "black", "size": 80, "opacity": 1},
      "encoding": {"x": {"field": "t", "type": "quantitative"}, "y": {"field": "m", "type": "quantitative", "axis": null}}}
    ]},
   {"width": 266, "height": 186, "resolve": {"axis": {"y": "independent"}},
    "layer": [
     {"data": {"name": "c_m5"}, "mark": {"type": "line", "interpolate": "monotone", "color": "black", "strokeWidth": 2},
      "encoding": {"x": {"field": "t", "type": "quantitative", "scale": {"type": "log", "domain": [0.01, 1000], "nice": false}, "axis": {"values": [0.01,0.02,0.03,0.04,0.05,0.06,0.07,0.08,0.09,0.1,0.2,0.3,0.4,0.5,0.6,0.7,0.8,0.9,1,2,3,4,5,6,7,8,9,10,20,30,40,50,60,70,80,90,100,200,300,400,500,600,700,800,900,1000], "labelExpr": "indexof([0.01,0.1,1,10,100,1000], datum.value) >= 0 ? format(datum.value, '~g') : ''", "tickSize": -5, "labelPadding": 12, "labelFlush": false, "labelOverlap": false, "title": null}},
       "y": {"field": "f", "type": "quantitative", "scale": {"domain": [0, 100], "nice": false}, "axis": {"values": [0, 50, 100], "title": null, "orient": "left"}}}},
     {"data": {"name": "p_m5"}, "mark": {"type": "line", "color": "black", "strokeWidth": 1.4},
      "encoding": {"x": {"field": "t", "type": "quantitative"}, "y": {"field": "m", "type": "quantitative", "axis": {"values": [10, 20, 30, 40, 60, 70, 80, 90], "labels": false, "domain": false, "tickSize": -4, "title": null, "orient": "left"}}}},
     {"data": {"name": "p_m5"}, "mark": {"type": "errorbar", "ticks": true, "color": "black", "thickness": 1.4},
      "encoding": {"x": {"field": "t", "type": "quantitative"}, "y": {"field": "lo", "type": "quantitative", "axis": null}, "y2": {"field": "hi"}}},
     {"data": {"name": "p_m5"}, "mark": {"type": "point", "shape": "diamond", "filled": true, "color": "black", "size": 80, "opacity": 1},
      "encoding": {"x": {"field": "t", "type": "quantitative"}, "y": {"field": "m", "type": "quantitative", "axis": null}}}
    ]},
   {"width": 260, "height": 186, "resolve": {"axis": {"y": "independent"}},
    "layer": [
     {"data": {"name": "c_m10"}, "mark": {"type": "line", "interpolate": "monotone", "color": "black", "strokeWidth": 2},
      "encoding": {"x": {"field": "t", "type": "quantitative", "scale": {"type": "log", "domain": [0.01, 1000], "nice": false}, "axis": {"values": [0.01,0.02,0.03,0.04,0.05,0.06,0.07,0.08,0.09,0.1,0.2,0.3,0.4,0.5,0.6,0.7,0.8,0.9,1,2,3,4,5,6,7,8,9,10,20,30,40,50,60,70,80,90,100,200,300,400,500,600,700,800,900,1000], "labelExpr": "indexof([0.01,0.1,1,10,100,1000], datum.value) >= 0 ? format(datum.value, '~g') : ''", "tickSize": -5, "labelPadding": 12, "labelFlush": false, "labelOverlap": false, "title": null}},
       "y": {"field": "f", "type": "quantitative", "scale": {"domain": [0, 100], "nice": false}, "axis": {"values": [0, 50, 100], "title": null, "orient": "left"}}}},
     {"data": {"name": "p_m10"}, "mark": {"type": "line", "color": "black", "strokeWidth": 1.4},
      "encoding": {"x": {"field": "t", "type": "quantitative"}, "y": {"field": "m", "type": "quantitative", "axis": {"values": [10, 20, 30, 40, 60, 70, 80, 90], "labels": false, "domain": false, "tickSize": -4, "title": null, "orient": "left"}}}},
     {"data": {"name": "p_m10"}, "mark": {"type": "errorbar", "ticks": true, "color": "black", "thickness": 1.4},
      "encoding": {"x": {"field": "t", "type": "quantitative"}, "y": {"field": "lo", "type": "quantitative", "axis": null}, "y2": {"field": "hi"}}},
     {"data": {"name": "p_m10"}, "mark": {"type": "point", "shape": "diamond", "filled": true, "color": "black", "size": 80, "opacity": 1},
      "encoding": {"x": {"field": "t", "type": "quantitative"}, "y": {"field": "m", "type": "quantitative", "axis": null}}}
    ]}
  ]
 }
 ]
}
]
}
